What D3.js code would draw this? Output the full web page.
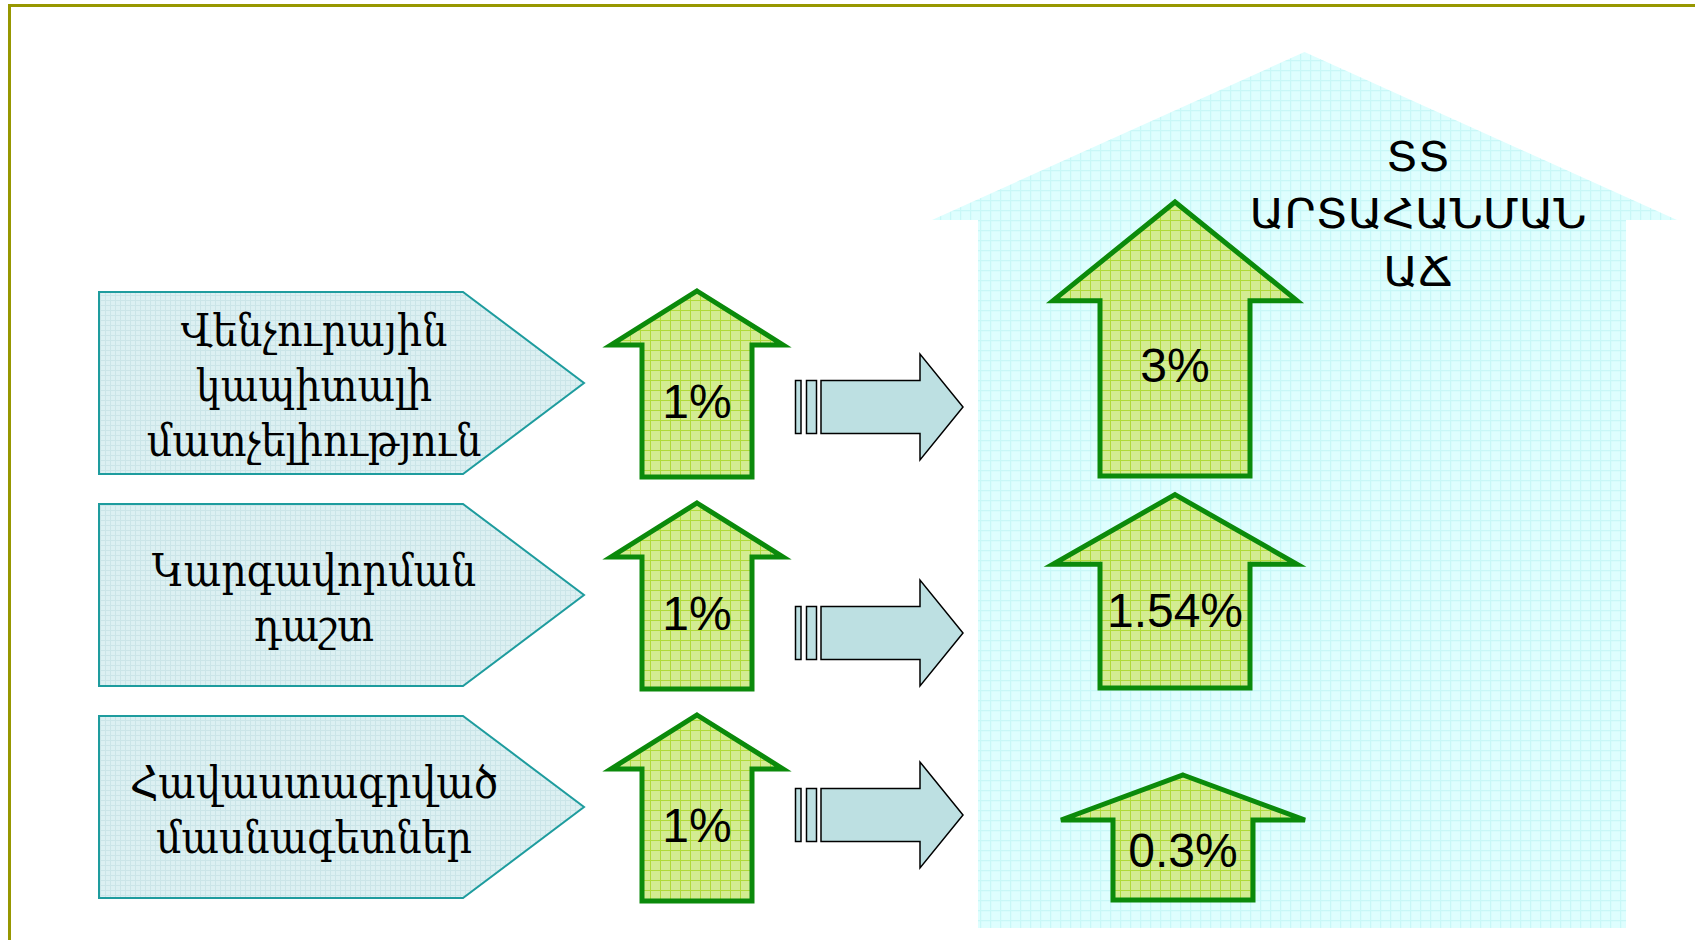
<!DOCTYPE html>
<html><head><meta charset="utf-8">
<script src="https://cdn.jsdelivr.net/npm/d3@7"></script>
<style>html,body{margin:0;padding:0;background:#fff;overflow:hidden}</style>
</head><body><svg id="chart" width="1695" height="940"></svg>
<script>
// ---------- data ----------
const categories = ["Վենչուրային կապիտալի մատչելիություն", "Կարգավորման դաշտ", "Հավաստագրված մասնագետներ"];
const categoryLines = [["Վենչուրային", "կապիտալի", "մատչելիություն"], ["Կարգավորման", "դաշտ"], ["Հավաստագրված", "մասնագետներ"]];
const inputValues = [1, 1, 1];
const outputValues = [3, 1.54, 0.3];
const titleLines = ["ՏՏ", "ԱՐՏԱՀԱՆՄԱՆ", "ԱՃ"];
const fmt = v => v + "%";

// ---------- layout ----------
const svg = d3.select("#chart");
const defs = svg.append("defs");

function gridPattern(id, size, base, line, lw) {
  const p = defs.append("pattern").attr("id", id).attr("patternUnits", "userSpaceOnUse")
    .attr("width", size).attr("height", size);
  p.append("rect").attr("width", size).attr("height", size).attr("fill", base);
  p.append("path").attr("d", `M0,${lw/2}H${size}M${lw/2},0V${size}`)
    .attr("stroke", line).attr("stroke-width", lw).attr("fill", "none");
}
gridPattern("gGreen", 10, "#d3ec92", "#b0da3a", 1);
gridPattern("gBox", 5, "#dcf0f2", "#cbe5e8", 1);
gridPattern("gHouse", 10, "#defefe", "#c8f7f7", 1.2);

// frame
svg.append("path").attr("d", "M9.5,1000V5.5H1700").attr("fill", "none")
  .attr("stroke", "#979700").attr("stroke-width", 3);

const row = d3.scaleBand().domain(categories).range([292, 898]).paddingInner(30 / 212).paddingOuter(0);
const inH = d3.scaleLinear().domain([0, 1]).range([0, 186]);
const outH = d3.scaleLinear().domain([0.3, 3]).range([125, 274]);

// house
const house = { x0: 932, x1: 1677, wl: 978, wr: 1626, eave: 220, apex: 52, bottom: 928 };
const houseMid = (house.x0 + house.x1) / 2;
svg.append("path")
  .attr("d", `M${house.x0},${house.eave}L${houseMid},${house.apex}L${house.x1},${house.eave}H${house.wr}V${house.bottom}H${house.wl}V${house.eave}Z`)
  .attr("fill", "url(#gHouse)");

// title (stretched horizontally to the reference's text block width)
const titleCx = 1418, titleW = 337;
const titleG = svg.append("g");
const title = titleG.append("text").attr("text-anchor", "middle")
  .attr("font-family", "'DejaVu Sans Condensed','DejaVu Sans',sans-serif").attr("font-size", 41).attr("fill", "#000");
titleLines.forEach((t, i) => {
  title.append("tspan").attr("x", 0).attr("y", 171 + i * 57.5).text(t);
});
{
  const w = title.node().getBBox().width || titleW;
  titleG.attr("transform", `translate(${titleCx},0) scale(${titleW / w},1)`);
}

// label boxes
const boxL = 99, boxR = 463, boxTip = 584;
const boxes = svg.selectAll("g.box").data(categories).join("g").attr("class", "box");
boxes.append("path")
  .attr("d", d => {
    const t = row(d), b = t + row.bandwidth(), c = t + row.bandwidth() / 2;
    return `M${boxL},${t}H${boxR}L${boxTip},${c}L${boxR},${b}H${boxL}Z`;
  })
  .attr("fill", "url(#gBox)").attr("stroke", "#1e9c9e").attr("stroke-width", 2);
boxes.each(function (d, i) {
  const lines = categoryLines[i];
  const c = row(d) + row.bandwidth() / 2;
  const lh = 55;
  const t = d3.select(this).append("text").attr("text-anchor", "middle")
    .attr("font-family", "'DejaVu Serif Condensed','DejaVu Serif',serif").attr("font-size", 44).attr("fill", "#000");
  lines.forEach((ln, j) => {
    t.append("tspan").attr("x", 314).attr("y", c + (j - (lines.length - 1) / 2) * lh + 18).text(ln);
  });
});

// up arrow path helper
function upArrow(cx, bottom, h, headHalf, shaftHalf, headFrac) {
  const top = bottom - h, hb = top + h * headFrac;
  return `M${cx},${top}L${cx + headHalf},${hb}H${cx + shaftHalf}V${bottom}H${cx - shaftHalf}V${hb}H${cx - headHalf}Z`;
}

// input arrows
const inCx = 697;
const ins = svg.selectAll("g.in").data(categories.map((c, i) => ({ c, v: inputValues[i] }))).join("g").attr("class", "in");
ins.append("path")
  .attr("d", d => upArrow(inCx, row(d.c) + row.bandwidth() + 3, inH(d.v), 86, 55, 0.29))
  .attr("fill", "url(#gGreen)").attr("stroke", "#0b8a0b").attr("stroke-width", 5);
ins.append("text").attr("text-anchor", "middle")
  .attr("x", inCx).attr("y", d => row(d.c) + row.bandwidth() + 3 - inH(d.v) * 0.41 + 17)
  .attr("font-family", "'Liberation Sans',Arial,sans-serif").attr("font-size", 48).attr("fill", "#000")
  .text(d => fmt(d.v));

// connector block arrows
const connOffset = [24, 38, 8];
const conn = svg.selectAll("g.conn").data(categories).join("g").attr("class", "conn");
conn.each(function (d, i) {
  const cy = row(d) + row.bandwidth() / 2 + connOffset[i];
  const g = d3.select(this);
  const st = { fill: "#bde0e2", stroke: "#000", sw: 1.5 };
  g.append("rect").attr("x", 795.5).attr("y", cy - 26.5).attr("width", 5.5).attr("height", 53)
    .attr("fill", st.fill).attr("stroke", st.stroke).attr("stroke-width", st.sw);
  g.append("rect").attr("x", 806.5).attr("y", cy - 26.5).attr("width", 10).attr("height", 53)
    .attr("fill", st.fill).attr("stroke", st.stroke).attr("stroke-width", st.sw);
  g.append("path")
    .attr("d", `M821,${cy - 26.5}H920V${cy - 53}L963,${cy}L920,${cy + 53}V${cy + 26.5}H821Z`)
    .attr("fill", st.fill).attr("stroke", st.stroke).attr("stroke-width", st.sw);
});

// output arrows
const outCx = [1175, 1175, 1183];
const outs = svg.selectAll("g.out").data(categories.map((c, i) => ({ c, v: outputValues[i], i }))).join("g").attr("class", "out");
outs.append("path")
  .attr("d", d => upArrow(outCx[d.i], row(d.c) + row.bandwidth() + 2, outH(d.v), 122, d.i === 2 ? 70 : 75, 0.36))
  .attr("fill", "url(#gGreen)").attr("stroke", "#0b8a0b").attr("stroke-width", 5);
outs.append("text").attr("text-anchor", "middle")
  .attr("x", d => outCx[d.i]).attr("y", d => row(d.c) + row.bandwidth() + 2 - outH(d.v) * 0.41 + 18)
  .attr("font-family", "'Liberation Sans',Arial,sans-serif").attr("font-size", 48).attr("fill", "#000")
  .text(d => fmt(d.v));
</script>
</body></html>
